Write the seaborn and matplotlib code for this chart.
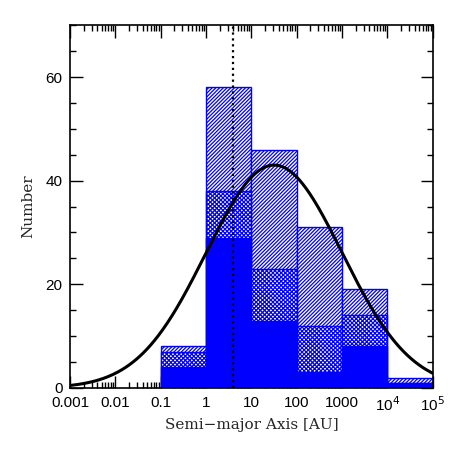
import numpy as np
import pandas as pd
import matplotlib
matplotlib.use('Agg')
import matplotlib.pyplot as plt
import matplotlib.ticker as mticker
import seaborn as sns

# bin edges in AU (one bin per decade)
bin_edges = [0.1, 1, 10, 100, 1000, 1e4, 1e5]
bin_mids = [0.3, 3, 30, 300, 3000, 3e4]

# counts per bin
n_all = [8, 58, 46, 31, 19, 2]        # hatched (all)
n_mid = [7, 38, 23, 12, 14, 1]        # cross-hatched
n_solid = [4, 29, 13, 3, 8, 1]        # solid

# log-normal model curve: peak height, mean log a, sigma log a
curve_peak = 43
curve_mu = 1.5
curve_sigma = 1.5

vline_x = 4.0

xtick_vals = [1e-3, 1e-2, 0.1, 1, 10, 100, 1000, 1e4, 1e5]
xtick_labels = ['0.001', '0.01', '0.1', '1', '10', '100', '1000',
                r'10$^4$', r'10$^5$']

sns.set_style('ticks')
plt.rcParams['font.family'] = ['Liberation Sans', 'DejaVu Sans']
plt.rcParams['hatch.linewidth'] = 0.9

fig = plt.figure(figsize=(4.58, 4.58), dpi=100)
ax = fig.add_axes([0.153, 0.153, 0.792, 0.792])
ax.set_xscale('log')

df = pd.DataFrame({'a': bin_mids, 'all': n_all, 'mid': n_mid, 'solid': n_solid})
log_bins = [float(v) for v in np.log10(bin_edges)]

sns.histplot(data=df, x='a', weights='all', bins=log_bins, ax=ax,
             facecolor='white', edgecolor='blue', hatch='/////////',
             linewidth=1, alpha=1)
sns.histplot(data=df, x='a', weights='mid', bins=log_bins, ax=ax,
             facecolor='white', edgecolor='blue', hatch='xxxxxxxx',
             linewidth=1, alpha=1)
sns.histplot(data=df, x='a', weights='solid', bins=log_bins, ax=ax,
             facecolor='blue', edgecolor='blue', linewidth=1, alpha=1)

# model curve
loga = np.linspace(-3, 5, 400)
model = curve_peak * np.exp(-(loga - curve_mu) ** 2 / (2 * curve_sigma ** 2))
sns.lineplot(x=10 ** loga, y=model, ax=ax, color='black', linewidth=2.2)

ax.axvline(vline_x, color='black', linestyle=':', linewidth=1.6)

ax.set_xlim(1e-3, 1e5)
ax.set_ylim(0, 70)
ax.xaxis.set_major_locator(mticker.FixedLocator(xtick_vals))
ax.xaxis.set_major_formatter(mticker.FixedFormatter(xtick_labels))
ax.xaxis.set_minor_locator(mticker.LogLocator(base=10, subs=np.arange(2, 10), numticks=20))
ax.xaxis.set_minor_formatter(mticker.NullFormatter())
ax.yaxis.set_major_locator(mticker.MultipleLocator(20))
ax.yaxis.set_minor_locator(mticker.MultipleLocator(5))

ax.tick_params(which='both', direction='in', top=True, right=True,
               colors='black', labelsize=11, width=1)
ax.tick_params(which='major', length=9)
ax.tick_params(which='minor', length=4.5)
ax.tick_params(axis='x', pad=5.5)
ax.tick_params(axis='y', pad=5.5)
for s in ax.spines.values():
    s.set_linewidth(1.2)
    s.set_color('black')

ax.set_xlabel('Semi\u2212major Axis [AU]', family='DejaVu Serif', fontsize=11, labelpad=3)
ax.set_ylabel('Number', family='DejaVu Serif', fontsize=11, labelpad=7)

fig.savefig('out.png', dpi=100)
